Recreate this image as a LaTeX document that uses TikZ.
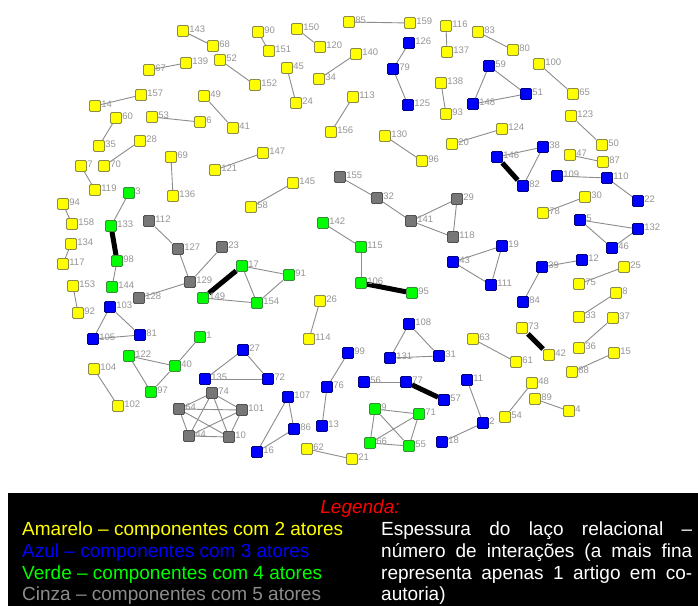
\documentclass[tikz,border=0pt]{standalone}
\usepackage{fontspec}
\setmainfont{Liberation Sans}
\usetikzlibrary{backgrounds}

\definecolor{cYel}{HTML}{FFFF00}
\definecolor{cBlu}{HTML}{0000FF}
\definecolor{cGrn}{HTML}{00FF00}
\definecolor{cGry}{HTML}{777777}
\definecolor{oYel}{HTML}{8A8A4A}
\definecolor{oBlu}{HTML}{000080}
\definecolor{oGrn}{HTML}{3A8A3A}
\definecolor{oGry}{HTML}{505050}
\definecolor{cEdge}{HTML}{8C8C8C}
\definecolor{cLbl}{HTML}{959595}
\definecolor{cLegRed}{HTML}{FF0000}
\definecolor{cLegGry}{HTML}{8C8C8C}

\newcommand\legfont{\fontsize{19}{23}\selectfont}
\newcommand\jline[1]{\makebox[311pt][s]{#1}}

\begin{document}
\begin{tikzpicture}[x=1pt,y=-1pt,
  vtx/.style={rectangle,minimum size=11pt,inner sep=0pt,line width=0.8pt,
              rounded corners=1.2pt,label distance=2pt},
  yel/.style={vtx,fill=cYel,draw=oYel},
  blu/.style={vtx,fill=cBlu,draw=oBlu},
  grn/.style={vtx,fill=cGrn,draw=oGrn},
  gry/.style={vtx,fill=cGry,draw=oGry},
  lbl/.style={font=\fontsize{9.5}{10}\selectfont,text=cLbl,inner sep=0.3pt,yshift=1.5pt},
  edge/.style={draw=cEdge,line width=0.9pt},
  heavy/.style={draw=black,line width=5pt},
  legtxt/.style={anchor=base west,inner sep=0pt,font=\legfont}]

\useasboundingbox (0,0) rectangle (698,605);

% ---------- vertices ----------
\foreach \i/\x/\y in {143/183/31, 68/213/46, 139/186/63, 67/149/70, 52/220/60,
  157/141/95, 14/95/106, 49/204/96, 60/116/118, 53/152/117, 6/200/122, 35/99/146,
  28/140/141, 69/171/157, 7/81/166, 70/104/166, 119/95/190, 136/173/196, 94/63/204,
  158/72/224, 134/71/244, 117/63/264, 153/73/286, 92/78/313, 104/94/369, 102/118/406,
  90/258/32, 151/269/51, 150/297/29, 120/320/47, 85/349/22, 159/410/23, 152/255/85,
  45/287/68, 24/296/103, 140/356/54, 34/319/79, 113/353/97, 156/331/132, 41/233/128,
  147/263/153, 121/215/170, 145/293/183, 58/251/207, 116/446/26, 137/447/52,
  83/478/32, 80/513/50, 138/441/83, 93/446/114, 130/385/136, 96/422/161, 20/452/144,
  124/502/129, 100/539/64, 65/573/94, 123/571/116, 50/602/145, 47/570/155, 87/603/162,
  30/585/197, 78/543/213, 25/624/267, 75/579/284, 8/616/293, 33/579/317, 37/613/318,
  36/579/348, 15/614/353, 88/572/372, 26/320/301, 114/309/339, 62/307/449, 21/352/459,
  63/473/339, 61/516/362, 73/522/328, 42/549/355, 48/532/383, 54/505/417, 89/535/399,
  4/569/411}
  \node[yel,label={[lbl]right:\i}] (n\i) at (\x,\y) {};

\foreach \i/\x/\y in {126/409/43, 79/393/69, 125/408/105, 59/489/66, 51/526/94,
  148/473/104, 146/497/157, 38/543/147, 82/523/186, 109/557/176, 110/607/178,
  22/638/201, 5/580/220, 132/638/229, 46/612/248, 12/582/260, 39/542/267, 84/523/302,
  19/502/246, 43/453/262, 111/491/285, 103/110/307, 105/93/339, 81/140/335,
  27/243/350, 135/205/379, 72/268/379, 99/348/353, 76/327/387, 13/322/426,
  107/288/397, 86/294/429, 16/257/452, 108/409/324, 131/390/358, 31/439/356,
  56/364/382, 77/406/382, 57/444/400, 11/467/380, 2/483/423, 18/442/442}
  \node[blu,label={[lbl]right:\i}] (n\i) at (\x,\y) {};

\foreach \i/\x/\y in {3/129/193, 133/111/226, 98/117/261, 144/112/287,
  142/323/223, 115/361/247, 106/361/283, 95/412/293, 17/242/266, 91/289/275,
  154/257/303, 149/203/298, 1/200/337, 40/175/366, 122/129/356, 97/151/392,
  9/375/409, 71/419/414, 66/370/443, 55/409/446}
  \node[grn,label={[lbl]right:\i}] (n\i) at (\x,\y) {};

\foreach \i/\x/\y in {112/149/221, 127/178/249, 129/190/282, 128/139/298, 23/222/247,
  155/340/177, 32/377/198, 141/411/221, 29/457/199, 118/453/237,
  74/212/393, 64/179/409, 44/189/436, 10/229/437, 101/242/410}
  \node[gry,label={[lbl]right:\i}] (n\i) at (\x,\y) {};

% ---------- ties (behind the vertices) ----------
\begin{scope}[on background layer]
  \fill[white] (0,0) rectangle (698,605);
  % two-actor components
  \foreach \a/\b in {143/68, 67/139, 14/157, 53/6, 60/35, 49/41, 28/70, 7/119,
    69/136, 94/158, 134/117, 153/92, 104/102, 90/151, 150/120, 85/159, 52/152,
    45/24, 140/34, 113/156, 147/121, 145/58, 116/137, 83/80, 138/93, 130/96,
    20/124, 100/65, 123/50, 47/87, 30/78, 25/75, 8/33, 37/36, 15/88, 26/114,
    62/21, 63/61, 48/54, 89/4}
    \draw[edge] (n\a) -- (n\b);
  % three-actor components
  \foreach \a/\b in {126/79, 79/125, 59/148, 59/51, 148/51, 146/38, 38/82,
    109/110, 110/22, 5/132, 5/46, 132/46, 39/12, 39/84, 43/19, 43/111, 19/111,
    103/105, 103/81, 105/81, 27/135, 27/72, 135/72, 99/76, 76/13, 107/86,
    107/16, 86/16, 108/131, 108/31, 131/31, 56/77, 11/2, 2/18}
    \draw[edge] (n\a) -- (n\b);
  % four-actor components
  \foreach \a/\b in {3/133, 98/144, 142/115, 115/106, 17/91, 17/154, 91/154,
    149/154, 1/40, 122/40, 122/97, 40/97, 9/71, 9/55, 9/66, 71/66, 71/55, 66/55}
    \draw[edge] (n\a) -- (n\b);
  % five-actor components
  \foreach \a/\b in {112/127, 127/129, 129/128, 129/23, 155/32, 32/141, 141/29,
    141/118, 29/118, 74/64, 74/44, 74/10, 74/101, 64/44, 64/10, 64/101, 44/10,
    44/101, 10/101}
    \draw[edge] (n\a) -- (n\b);
  % repeated co-authorship
  \foreach \a/\b in {146/82, 133/98, 106/95, 77/57, 73/42, 149/17}
    \draw[heavy] (n\a) -- (n\b);
\end{scope}

% ---------- legend ----------
\fill[black] (8,493) rectangle (698,612);
\node[anchor=base,inner sep=0pt,font=\legfont\itshape,text=cLegRed] (legT) at (360,513) {Legenda:};
\node[legtxt,text=cYel] (legY) at (22,535) {Amarelo – componentes com 2 atores};
\node[legtxt,text=cBlu] (legB) at (22,557) {Azul – componentes com 3 atores};
\node[legtxt,text=cGrn] (legG) at (22,579) {Verde – componentes com 4 atores};
\node[legtxt,text=cLegGry] (legC) at (22,600) {Cinza – componentes com 5 atores};
\node[legtxt,text=white] (legR1) at (381,535) {\jline{Espessura do laço relacional –}};
\node[legtxt,text=white] (legR2) at (381,557) {\jline{número de interações (a mais fina}};
\node[legtxt,text=white] (legR3) at (381,579) {\jline{representa apenas 1 artigo em co-}};
\node[legtxt,text=white] (legR4) at (381,600) {autoria)};
\end{tikzpicture}
\end{document}
